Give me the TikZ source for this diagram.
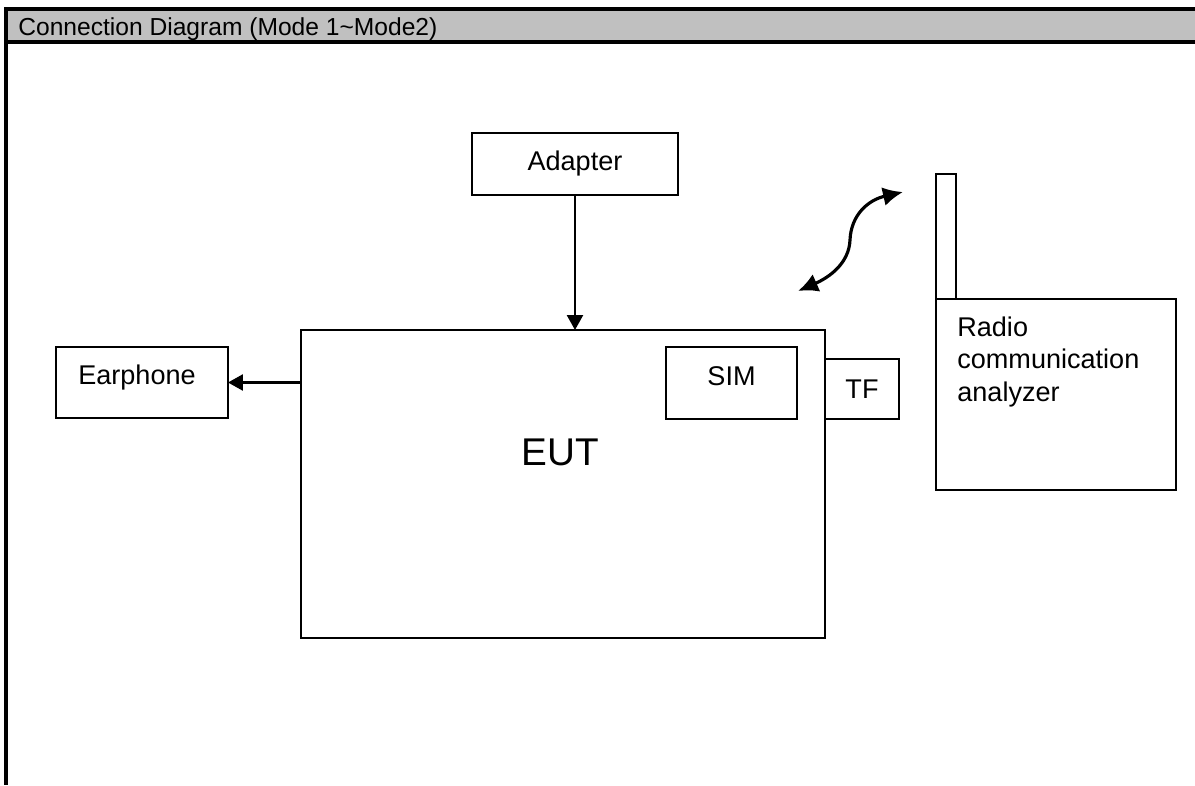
\documentclass[tikz,border=0pt]{standalone}
\usepackage{fontspec}
\setmainfont{Liberation Sans}
\usetikzlibrary{arrows.meta}
\definecolor{headgray}{RGB}{192,192,192}

\begin{document}
\begin{tikzpicture}[x=0.02cm, y=-0.02cm,
   box/.style={rectangle,draw,line width=1.4pt,anchor=north west,
    inner sep=0pt,outer sep=0pt,font=\fontsize{15.4}{18.5}\selectfont},
   txt/.style={inner sep=0pt,font=\fontsize{15.4}{18.5}\selectfont},
   arr/.style={-{Triangle[length=0.3cm,width=0.32cm]},line width=1.4pt}
    ]

    \useasboundingbox (0,0) rectangle (1195,785);

    % Header:
    \fill[headgray] (6,9) rectangle (1195,42);
    \draw[line width=2pt] (1195,42) -- (6,42);
    \draw[line width=2pt] (1195,9) -- (6,9) -- (6,785);
    \node[txt,anchor=base west,font=\fontsize{14}{17}\selectfont] (title)
        at (18,35) {Connection Diagram (Mode 1\textasciitilde Mode2)};

    % Boxes:
    \node[box,minimum width=4.12cm,minimum height=1.24cm] (adapter) at (472,133) {Adapter};
    \node[box,minimum width=10.48cm,minimum height=6.16cm] (eut) at (301,330) {};
    \node[txt,anchor=base,font=\fontsize{22}{26}\selectfont] (euttext) at (560,465) {EUT};
    \node[box,minimum width=2.62cm,minimum height=1.44cm] (sim) at (666,347) {};
    \node[txt,anchor=base] (simtext) at (731.5,385) {SIM};
    \node[box,minimum width=1.48cm,minimum height=1.2cm] (tf) at (825,359) {TF};
    \node[box,minimum width=3.44cm,minimum height=1.42cm] (earphone) at (56,347) {};
    \node[txt,anchor=base west] (earphonetext) at (78,384) {Earphone};

    % Analyzer + antenna:
    \node[box,minimum width=0.4cm,minimum height=2.5cm] (antenna) at (936,174) {};
    \node[box,minimum width=4.8cm,minimum height=3.82cm] (analyzer) at (936,299) {};
    \node[txt,anchor=base west,align=left] (analyzertext) at (957,401)
        {Radio\\communication\\analyzer};

    % arrows

    \draw[arr] (adapter.south) -- (adapter.south |- eut.north); % adapter -> EUT
    \draw[arr] (earphone.east -| eut.west) -- (earphone.east);  % EUT -> earphone

    % radio link
    \coordinate (linkend) at (798,291);
    \coordinate (linkstart) at (903,192);
    \draw[{Latex[length=0.4cm,width=0.38cm]}-{Latex[length=0.4cm,width=0.38cm]},line width=1.8pt]
        (linkend) .. controls (830,277) and (849,263) .. (850,240)
                  .. controls (851,215) and (868,200) .. (linkstart);

\end{tikzpicture}
\end{document}
